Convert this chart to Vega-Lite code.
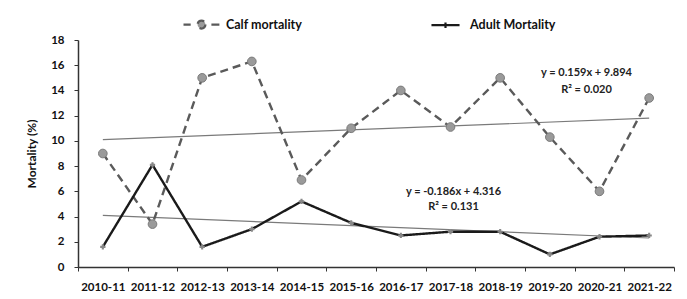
{
  "$schema": "https://vega.github.io/schema/vega-lite/v6.json",
  "width": 596,
  "height": 227,
  "autosize": "none",
  "padding": {"left": 78, "top": 40, "right": 13, "bottom": 32},
  "background": "white",
  "config": {
    "font": "Lato",
    "view": {"stroke": null},
    "axis": {
      "grid": false,
      "domainColor": "#333333",
      "domainWidth": 1.5,
      "tickColor": "#333333",
      "tickSize": 4,
      "labelFont": "Lato",
      "labelFontWeight": "bold",
      "labelFontSize": 11.5,
      "labelColor": "#111111",
      "titleFont": "Lato",
      "titleFontWeight": "bold",
      "titleFontSize": 12,
      "titleColor": "#111111"
    }
  },
  "datasets": {
    "obs": [
      {"year": "2010-11", "series": "Calf mortality", "value": 9.0},
      {"year": "2011-12", "series": "Calf mortality", "value": 3.4},
      {"year": "2012-13", "series": "Calf mortality", "value": 15.0},
      {"year": "2013-14", "series": "Calf mortality", "value": 16.3},
      {"year": "2014-15", "series": "Calf mortality", "value": 6.9},
      {"year": "2015-16", "series": "Calf mortality", "value": 11.0},
      {"year": "2016-17", "series": "Calf mortality", "value": 14.0},
      {"year": "2017-18", "series": "Calf mortality", "value": 11.1},
      {"year": "2018-19", "series": "Calf mortality", "value": 15.0},
      {"year": "2019-20", "series": "Calf mortality", "value": 10.3},
      {"year": "2020-21", "series": "Calf mortality", "value": 6.0},
      {"year": "2021-22", "series": "Calf mortality", "value": 13.4},
      {"year": "2010-11", "series": "Adult Mortality", "value": 1.6},
      {"year": "2011-12", "series": "Adult Mortality", "value": 8.1},
      {"year": "2012-13", "series": "Adult Mortality", "value": 1.6},
      {"year": "2013-14", "series": "Adult Mortality", "value": 3.0},
      {"year": "2014-15", "series": "Adult Mortality", "value": 5.2},
      {"year": "2015-16", "series": "Adult Mortality", "value": 3.5},
      {"year": "2016-17", "series": "Adult Mortality", "value": 2.5},
      {"year": "2017-18", "series": "Adult Mortality", "value": 2.8},
      {"year": "2018-19", "series": "Adult Mortality", "value": 2.8},
      {"year": "2019-20", "series": "Adult Mortality", "value": 1.0},
      {"year": "2020-21", "series": "Adult Mortality", "value": 2.4},
      {"year": "2021-22", "series": "Adult Mortality", "value": 2.5}
    ],
    "trend": [
      {"year": "2010-11", "series": "Calf trend", "value": 10.1},
      {"year": "2021-22", "series": "Calf trend", "value": 11.8},
      {"year": "2010-11", "series": "Adult trend", "value": 4.1},
      {"year": "2021-22", "series": "Adult trend", "value": 2.3}
    ],
    "notes": [
      {"year": "2020-21", "value": 15.4, "label": "y = 0.159x + 9.894", "group": "calf"},
      {"year": "2020-21", "value": 14.0, "label": "R² = 0.020", "group": "calf"},
      {"year": "2017-18", "value": 5.95, "label": "y = -0.186x + 4.316", "group": "adult"},
      {"year": "2017-18", "value": 4.75, "label": "R² = 0.131", "group": "adult"}
    ]
  },
  "encoding": {
    "x": {
      "field": "year",
      "type": "ordinal",
      "bandPosition": 0.5,
      "scale": {
        "type": "band",
        "paddingInner": 0,
        "paddingOuter": 0,
        "domain": ["2010-11", "2011-12", "2012-13", "2013-14", "2014-15", "2015-16", "2016-17", "2017-18", "2018-19", "2019-20", "2020-21", "2021-22"]
      },
      "axis": {"title": null, "labelAngle": 0, "tickBand": "extent", "labelPadding": 10}
    },
    "y": {
      "field": "value",
      "type": "quantitative",
      "scale": {"domain": [0, 18], "nice": false},
      "axis": {"title": "Mortality (%)", "values": [0, 2, 4, 6, 8, 10, 12, 14, 16, 18], "labelPadding": 10, "titlePadding": 12}
    }
  },
  "layer": [
    {
      "data": {"name": "trend"},
      "mark": {"type": "line", "color": "#7a7a7a", "strokeWidth": 1.2},
      "encoding": {"detail": {"field": "series"}}
    },
    {
      "data": {"name": "obs"},
      "mark": {"type": "line", "strokeWidth": 2.4},
      "encoding": {
        "color": {
          "field": "series",
          "type": "nominal",
          "scale": {"domain": ["Calf mortality", "Adult Mortality"], "range": ["#5a5a5a", "#1a1a1a"]},
          "legend": {
            "title": null,
            "orient": "none",
            "direction": "horizontal",
            "legendX": 104,
            "legendY": -35,
            "symbolSize": 1296,
            "symbolStrokeWidth": 2.2,
            "labelFont": "Lato",
            "labelFontWeight": "bold",
            "labelFontSize": 12.5,
            "labelColor": "#111111",
            "labelOffset": 5,
            "columnPadding": 123,
            "encode": {
              "symbols": {
                "update": {
                  "shape": {"signal": "datum.value === 'Calf mortality' ? 'M-1,0H-0.6M0.55,0H1M0.22,0A0.22,0.22,0,1,1,-0.22,0A0.22,0.22,0,1,1,0.22,0' : 'M-0.78,0H0.78M0,-0.15V0.15'"},
                  "fill": {"signal": "datum.value === 'Calf mortality' ? '#9a9a9a' : 'transparent'"},
                  "stroke": {"signal": "datum.value === 'Calf mortality' ? '#6a6a6a' : '#1a1a1a'"}
                }
              }
            }
          }
        },
        "strokeDash": {
          "field": "series",
          "type": "nominal",
          "scale": {"domain": ["Calf mortality", "Adult Mortality"], "range": [[8, 5], [1, 0]]},
          "legend": null
        }
      }
    },
    {
      "data": {"name": "obs"},
      "transform": [{"filter": "datum.series === 'Calf mortality'"}],
      "mark": {"type": "point", "shape": "circle", "filled": true, "fill": "#9a9a9a", "stroke": "#7a7a7a", "strokeWidth": 1, "size": 75, "opacity": 1}
    },
    {
      "data": {"name": "obs"},
      "transform": [{"filter": "datum.series === 'Adult Mortality'"}],
      "mark": {"type": "point", "shape": "cross", "filled": true, "color": "#888888", "size": 28, "opacity": 1}
    },
    {
      "data": {"name": "notes"},
      "transform": [{"filter": "datum.group === 'calf'"}],
      "mark": {"type": "text", "font": "Lato", "fontWeight": "bold", "fontSize": 11, "color": "#222222", "align": "center", "baseline": "middle", "dx": -13},
      "encoding": {"text": {"field": "label"}}
    },
    {
      "data": {"name": "notes"},
      "transform": [{"filter": "datum.group === 'adult'"}],
      "mark": {"type": "text", "font": "Lato", "fontWeight": "bold", "fontSize": 11, "color": "#222222", "align": "center", "baseline": "middle", "dx": 3},
      "encoding": {"text": {"field": "label"}}
    }
  ]
}
